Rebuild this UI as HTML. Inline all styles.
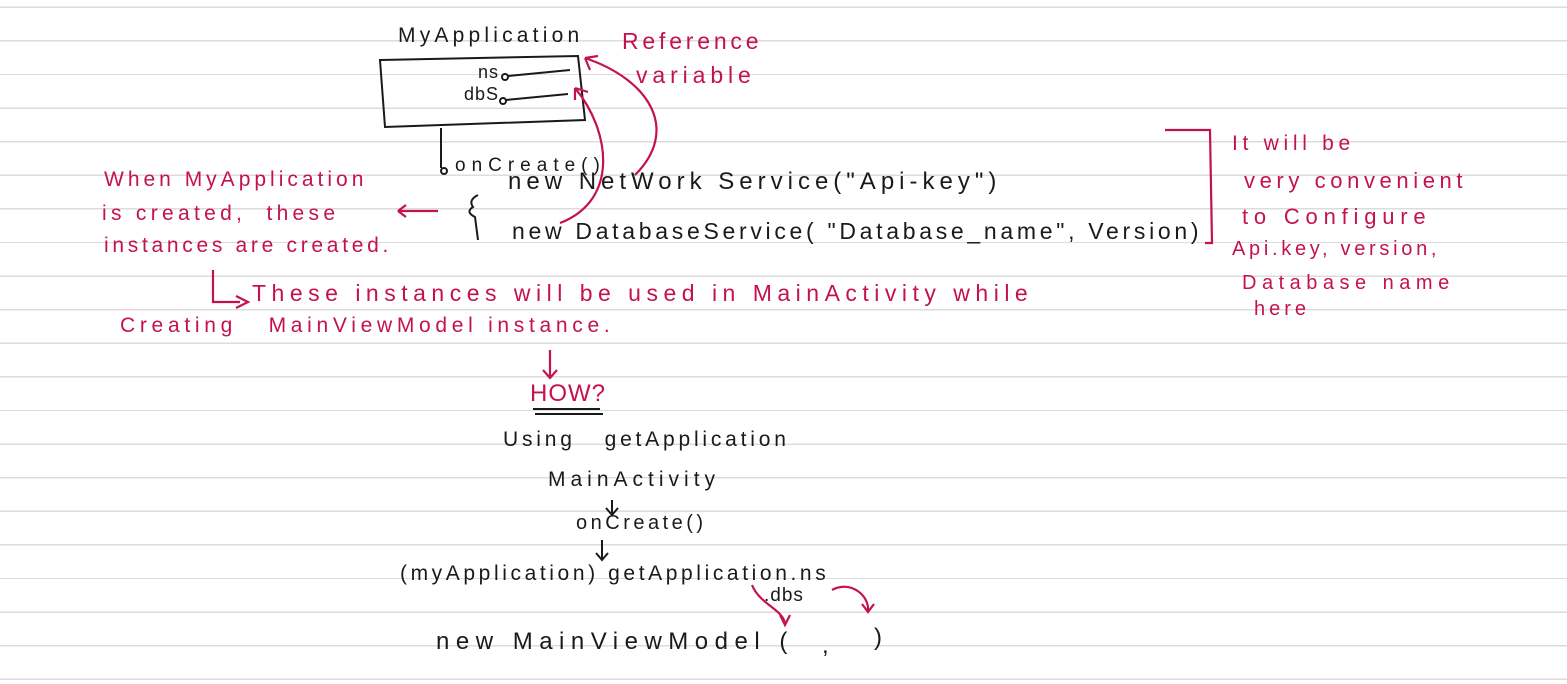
<!DOCTYPE html>
<html><head><style>
html,body{margin:0;padding:0}
body{width:1567px;height:684px;position:relative;overflow:hidden;background:#fff;font-family:"Liberation Sans",sans-serif;
background-image:repeating-linear-gradient(to bottom,transparent 0,transparent 6.6px,#dcdcdc 6.6px,#dcdcdc 8px,transparent 8px,transparent 33.6px);}
.t{position:absolute;white-space:nowrap;font-size:22px;color:#1a1a1a;letter-spacing:1px}
.r{color:#c4124f}
</style></head><body>
<svg width="1567" height="684" style="position:absolute;left:0;top:0" fill="none">
<g stroke="#1a1a1a" stroke-width="2">
<path d="M380 60 L578 56 L585 120 L385 127 Z"/>
<circle cx="505" cy="77" r="3"/><path d="M508 76 L570 70"/>
<circle cx="503" cy="101" r="3"/><path d="M506 100 L568 94"/>
<path d="M441 128 L441 168"/><circle cx="444" cy="171" r="3"/>
<path d="M478 195 q-10 5 -5 12 q-8 5 2 10 L478 240"/>
<path d="M612 500 L612 515 M606 508 L612 515 L618 508"/>
<path d="M602 540 L602 560 M596 553 L602 560 L608 553"/>
<path d="M533 409 L600 409 M535 414 L603 414"/>
</g>
<g stroke="#c4124f" stroke-width="2.2">
<path d="M560 223 C620 200 610 130 575 88 M575 88 L575 100 M575 88 L588 92"/>
<path d="M635 175 C680 130 650 80 585 58 M585 58 L590 70 M585 58 L598 56"/>
<path d="M438 211 L398 211 M398 211 L406 205 M398 211 L406 217"/>
<path d="M213 270 L213 302 L240 302 M236 296 L248 302 L236 308"/>
<path d="M1165 130 L1210 130 L1212 243 L1205 243"/>
<path d="M550 350 L550 378 M543 370 L550 378 L557 370"/>
<path d="M752 585 C760 605 785 610 785 625 M780 615 L785 625 L790 615"/>
<path d="M832 590 C850 580 870 595 868 612 M862 604 L868 612 L874 604"/>
</g>
</svg>
<div class="t" style="left:398px;top:24px;font-size:21px;letter-spacing:4.2px">MyApplication</div>
<div class="t" style="left:478px;top:62px;font-size:18px">ns</div>
<div class="t" style="left:464px;top:84px;font-size:18px">dbS</div>
<div class="t" style="left:455px;top:155px;font-size:19px;letter-spacing:6px">onCreate()</div>
<div class="t" style="left:508px;top:168px;font-size:24px;letter-spacing:5px">new NetWork Service("Api-key")</div>
<div class="t" style="left:512px;top:218px;font-size:23px;letter-spacing:3.7px">new DatabaseService( "Database_name", Version)</div>
<div class="t r" style="left:622px;top:28px;font-size:23px;letter-spacing:3.8px">Reference</div>
<div class="t r" style="left:636px;top:62px;font-size:23px;letter-spacing:4.9px">variable</div>
<div class="t r" style="left:104px;top:168px;font-size:21px;letter-spacing:4px">When MyApplication</div>
<div class="t r" style="left:102px;top:202px;font-size:21px;letter-spacing:4.3px">is created,&nbsp; these</div>
<div class="t r" style="left:104px;top:234px;font-size:21px;letter-spacing:3.7px">instances are created.</div>
<div class="t r" style="left:252px;top:280px;font-size:23px;letter-spacing:5.5px">These instances will be used in MainActivity while</div>
<div class="t r" style="left:120px;top:314px;font-size:21px;letter-spacing:4.7px">Creating&nbsp;&nbsp; MainViewModel instance.</div>
<div class="t r" style="left:1232px;top:132px;font-size:21px;letter-spacing:4.7px">It will be</div>
<div class="t r" style="left:1244px;top:168px;font-size:22px;letter-spacing:4.6px">very convenient</div>
<div class="t r" style="left:1242px;top:204px;font-size:22px;letter-spacing:5.8px">to Configure</div>
<div class="t r" style="left:1232px;top:238px;font-size:20px;letter-spacing:3.7px">Api.key, version,</div>
<div class="t r" style="left:1242px;top:272px;font-size:20px;letter-spacing:5.5px">Database name</div>
<div class="t r" style="left:1254px;top:298px;font-size:20px;letter-spacing:4px">here</div>
<div class="t r" style="left:530px;top:380px;font-size:24px">HOW?</div>
<div class="t" style="left:503px;top:428px;font-size:21px;letter-spacing:3.8px">Using&nbsp;&nbsp; getApplication</div>
<div class="t" style="left:548px;top:468px;font-size:21px;letter-spacing:5px">MainActivity</div>
<div class="t" style="left:576px;top:512px;font-size:20px;letter-spacing:3.5px">onCreate()</div>
<div class="t" style="left:400px;top:562px;font-size:21px;letter-spacing:3.6px">(myApplication) getApplication.ns</div>
<div class="t" style="left:764px;top:585px;font-size:19px">.dbs</div>
<div class="t" style="left:436px;top:628px;font-size:24px;letter-spacing:6.5px">new MainViewModel (</div>
<div class="t" style="left:822px;top:632px;font-size:24px">,</div>
<div class="t" style="left:874px;top:624px;font-size:24px">)</div>
</body></html>
